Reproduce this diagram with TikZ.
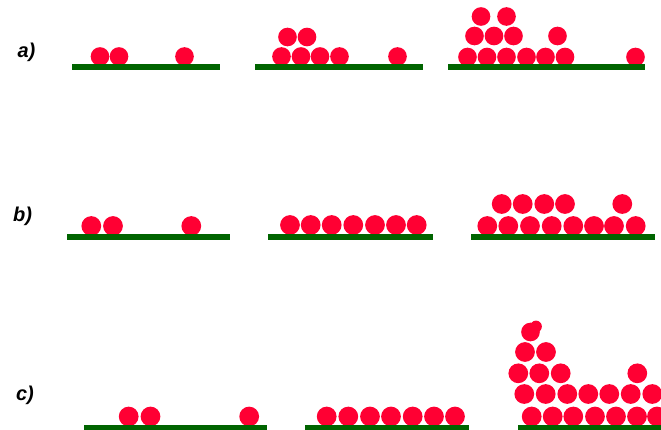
\documentclass[tikz,border=0pt]{standalone}
\usepackage{fontspec}
\setmainfont{Liberation Sans}
\definecolor{ballred}{RGB}{255,0,51}
\definecolor{groundgreen}{RGB}{0,100,0}
\begin{document}
\begin{tikzpicture}[x=0.75pt,y=-0.75pt,
  ball/.style={fill=ballred},
  ground/.style={fill=groundgreen},
  lbl/.style={font=\fontsize{15}{15}\selectfont\bfseries\itshape, inner sep=0pt}]
\useasboundingbox (0,0) rectangle (661,429);
% ---- row a ----
\foreach \x/\y in {100/56.5,119/56.5,184.5/56.5,
  281.5/56.5,301/56.5,320/56.5,339.5/56.5,397.5/56.5,287.5/37,307/37,
  467.5/57,487/57,506.5/57,526.5/57,545.5/57,565/57,635.5/57,
  474.5/36,494/36,513.5/36,557.5/36,481/16.5,506.5/16.5}
  \fill[ball] (\x,\y) circle[radius=7pt];
\fill[ground] (72,63.5) rectangle (220,69.5);
\fill[ground] (255,63.5) rectangle (423,69.5);
\fill[ground] (448,63.5) rectangle (645,69.5);
% ---- row b ----
\foreach \x/\y in {91.3/226,113/226,191.3/226,
  290/225,310.7/225,331.7/225,353.3/225,375/225,396/225,416.7/225,
  487.3/226,508.3/226,530/226,551.7/226,573.3/226,594/226,614/226,635.7/226,
  501.7/204,522.7/204,544.3/204,565/204,622.3/204}
  \fill[ball] (\x,\y) circle[radius=7.4pt];
\fill[ground] (67,233.5) rectangle (230,239.5);
\fill[ground] (267.5,233.5) rectangle (432.5,239.5);
\fill[ground] (470.5,233.5) rectangle (655,239.5);
% ---- row c ----
\foreach \x/\y in {128.7/416.5,150.5/416.5,249.2/416.5,
  326.7/416.5,348.3/416.5,370/416.5,391/416.5,412.7/416.5,434/416.5,455/416.5,
  531.7/416.5,552.7/416.5,573.3/416.5,595/416.5,616/416.5,637/416.5,657/416.5,
  524.3/394,545.7/394,567.3/394,588.3/394,609.3/394,630.7/394,652.3/394,
  518.3/373.3,539.3/373.3,560.7/373.3,637.3/373.3,
  525/352,546/352}
  \fill[ball] (\x,\y) circle[radius=7.4pt];
\fill[ball] (530.5,332) circle[radius=7pt];
\fill[ball] (536,326.5) circle[radius=4.4pt];
\fill[ground] (83.5,424.5) rectangle (266.5,430);
\fill[ground] (305,424.5) rectangle (468.5,430);
\fill[ground] (517.5,424.5) rectangle (661,430);
% ---- labels ----
\node[lbl] (la) at (26.5,52.5) {a)};
\node[lbl] (lb) at (22.5,216.5) {b)};
\node[lbl] (lc) at (25,395.8) {c)};
\end{tikzpicture}
\end{document}
